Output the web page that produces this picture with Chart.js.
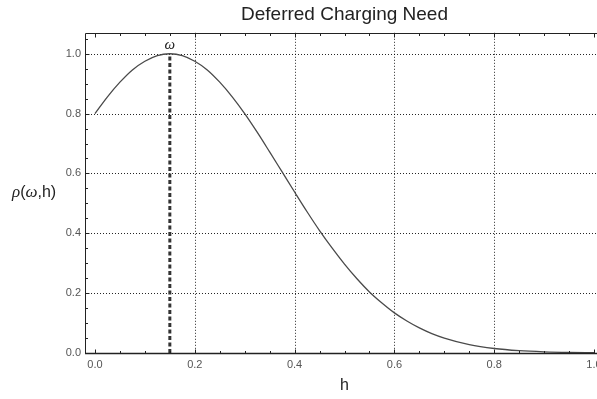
<!DOCTYPE html>
<html>
<head>
<meta charset="utf-8">
<script src="https://cdn.jsdelivr.net/npm/chart.js@4/dist/chart.umd.min.js"></script>
<style>
  html, body { margin: 0; padding: 0; background: #fff; overflow: hidden; }
  #wrap { width: 614px; height: 399px; }
</style>
</head>
<body>
<div id="wrap"><canvas id="c" width="614" height="399"></canvas></div>
<script>
// ---- data ----
const hValues = [0, 0.025, 0.05, 0.075, 0.1, 0.125, 0.15, 0.175, 0.2, 0.225, 0.25, 0.275, 0.3, 0.325, 0.35, 0.375, 0.4, 0.425, 0.45, 0.475, 0.5, 0.525, 0.55, 0.575, 0.6, 0.625, 0.65, 0.675, 0.7, 0.75, 0.8, 0.85, 0.9, 0.95, 1.0];
const rhoValues = [0.80, 0.856, 0.905, 0.946, 0.975, 0.994, 1.0, 0.994, 0.975, 0.946, 0.905, 0.856, 0.80, 0.738, 0.672, 0.605, 0.538, 0.472, 0.409, 0.351, 0.297, 0.248, 0.204, 0.167, 0.134, 0.107, 0.084, 0.065, 0.050, 0.028, 0.015, 0.0077, 0.0038, 0.0017, 0.0008];
const omegaH = 0.15;
const omegaLine = [0, 1.0];
const xTicks = [0, 0.2, 0.4, 0.6, 0.8, 1.0];
const yTicks = [0, 0.2, 0.4, 0.6, 0.8, 1.0];
const xGrid = [0.2, 0.4, 0.6, 0.8];
const yGrid = [0.2, 0.4, 0.6, 0.8, 1.0];
const minorStep = 0.05;
const titleText = 'Deferred Charging Need';
const xTitle = 'h';

const curve = hValues.map((h, i) => ({ x: h, y: rhoValues[i] }));
const omegaPts = omegaLine.map(v => ({ x: omegaH, y: v }));

const framePlugin = {
  id: 'frame',
  beforeDatasetsDraw(chart) {
    const { ctx, chartArea: a, scales: { x, y } } = chart;
    ctx.save();
    ctx.strokeStyle = 'rgba(0,0,0,0.85)';
    ctx.lineWidth = 1;
    ctx.setLineDash([1, 2]);
    xGrid.forEach(v => {
      const px = Math.round(x.getPixelForValue(v)) + 0.5;
      ctx.beginPath(); ctx.moveTo(px, a.top); ctx.lineTo(px, a.bottom); ctx.stroke();
    });
    yGrid.forEach(v => {
      const py = Math.round(y.getPixelForValue(v)) + 0.5;
      ctx.beginPath(); ctx.moveTo(a.left, py); ctx.lineTo(a.right, py); ctx.stroke();
    });
    ctx.restore();
  },
  afterDatasetsDraw(chart) {
    const { ctx, chartArea: a, scales: { x, y } } = chart;
    ctx.save();
    ctx.strokeStyle = '#222';
    ctx.lineWidth = 1;
    ctx.setLineDash([]);
    const L = Math.round(a.left) + 0.5, T = Math.round(a.top) + 0.5, B = Math.round(a.bottom) + 0.5, R = Math.round(a.right) + 0.5;
    ctx.beginPath();
    ctx.moveTo(L, T); ctx.lineTo(R, T); ctx.lineTo(R, B); ctx.lineTo(L, B); ctx.closePath();
    ctx.stroke();
    ctx.lineWidth = 1.5;
    ctx.beginPath(); ctx.moveTo(a.left, B); ctx.lineTo(a.right, B); ctx.stroke();
    ctx.lineWidth = 1;
    for (let k = 0; k <= 20; k++) {
      const v = k * minorStep;
      const major = k % 4 === 0;
      const len = major ? 4 : 2.5;
      const px = Math.round(x.getPixelForValue(v)) + 0.5;
      ctx.beginPath();
      ctx.moveTo(px, B); ctx.lineTo(px, B - len);
      ctx.moveTo(px, T); ctx.lineTo(px, T + len);
      ctx.stroke();
    }
    for (let k = 0; k <= 21; k++) {
      const v = k * minorStep;
      if (v > y.max) break;
      const major = k % 4 === 0;
      const len = major ? 4 : 2.5;
      const py = Math.round(y.getPixelForValue(v)) + 0.5;
      ctx.beginPath();
      ctx.moveTo(L, py); ctx.lineTo(L + len, py);
      ctx.moveTo(R, py); ctx.lineTo(R - len, py);
      ctx.stroke();
    }
    ctx.fillStyle = '#222';
    ctx.font = 'italic 15px "Liberation Serif", serif';
    ctx.textAlign = 'center';
    ctx.textBaseline = 'alphabetic';
    ctx.fillText('ω', x.getPixelForValue(omegaH), y.getPixelForValue(1.0) - 5);
    ctx.textAlign = 'left';
    ctx.textBaseline = 'middle';
    let cx = 12;
    const yc = 193;
    const parts = [['ρ', 'italic 17px "Liberation Serif", serif'], ['(', '16px "Liberation Sans", Arial, sans-serif'], ['ω', 'italic 17px "Liberation Serif", serif'], [',h)', '16px "Liberation Sans", Arial, sans-serif']];
    parts.forEach(([t, f]) => {
      ctx.font = f;
      ctx.fillText(t, cx, yc);
      cx += ctx.measureText(t).width;
    });
    ctx.font = '16px "Liberation Sans", Arial, sans-serif';
    ctx.textAlign = 'center';
    ctx.fillText(xTitle, (a.left + a.right) / 2, 386);
    ctx.restore();
  }
};

new Chart(document.getElementById('c'), {
  type: 'scatter',
  data: {
    datasets: [
      {
        data: curve,
        showLine: true,
        borderColor: '#4a4a4a',
        borderWidth: 1.3,
        pointRadius: 0,
        cubicInterpolationMode: 'monotone',
        fill: false
      },
      {
        data: omegaPts,
        showLine: true,
        borderColor: '#333',
        borderWidth: 3,
        borderDash: [4, 2.5],
        pointRadius: 0,
        fill: false
      }
    ]
  },
  options: {
    responsive: false,
    animation: false,
    devicePixelRatio: 1,
    layout: { padding: { left: 0, right: 10, top: 0, bottom: 0 } },
    plugins: {
      legend: { display: false },
      tooltip: { enabled: false },
      title: {
        display: true,
        text: titleText,
        fullSize: false,
        color: '#222',
        font: { family: '"Liberation Sans", Arial, sans-serif', size: 19, weight: 'normal' },
        padding: { top: 3, bottom: 7 }
      }
    },
    scales: {
      x: {
        type: 'linear',
        min: -0.02,
        max: 1.02,
        afterBuildTicks: s => { s.ticks = xTicks.map(v => ({ value: v })); },
        afterFit: s => { s.height = 46; },
        grid: { display: false, drawTicks: false },
        border: { display: false },
        ticks: {
          padding: 5,
          color: '#555',
          font: { family: '"Liberation Sans", Arial, sans-serif', size: 11 },
          callback: v => v.toFixed(1),
          maxRotation: 0,
          autoSkip: false
        }
      },
      y: {
        type: 'linear',
        min: 0,
        max: 1.07,
        afterBuildTicks: s => { s.ticks = yTicks.map(v => ({ value: v })); },
        afterFit: s => { s.width = 85; },
        grid: { display: false, drawTicks: false },
        border: { display: false },
        ticks: {
          padding: 4,
          color: '#555',
          font: { family: '"Liberation Sans", Arial, sans-serif', size: 11 },
          callback: v => v.toFixed(1)
        }
      }
    }
  },
  plugins: [framePlugin]
});
</script>
</body>
</html>
